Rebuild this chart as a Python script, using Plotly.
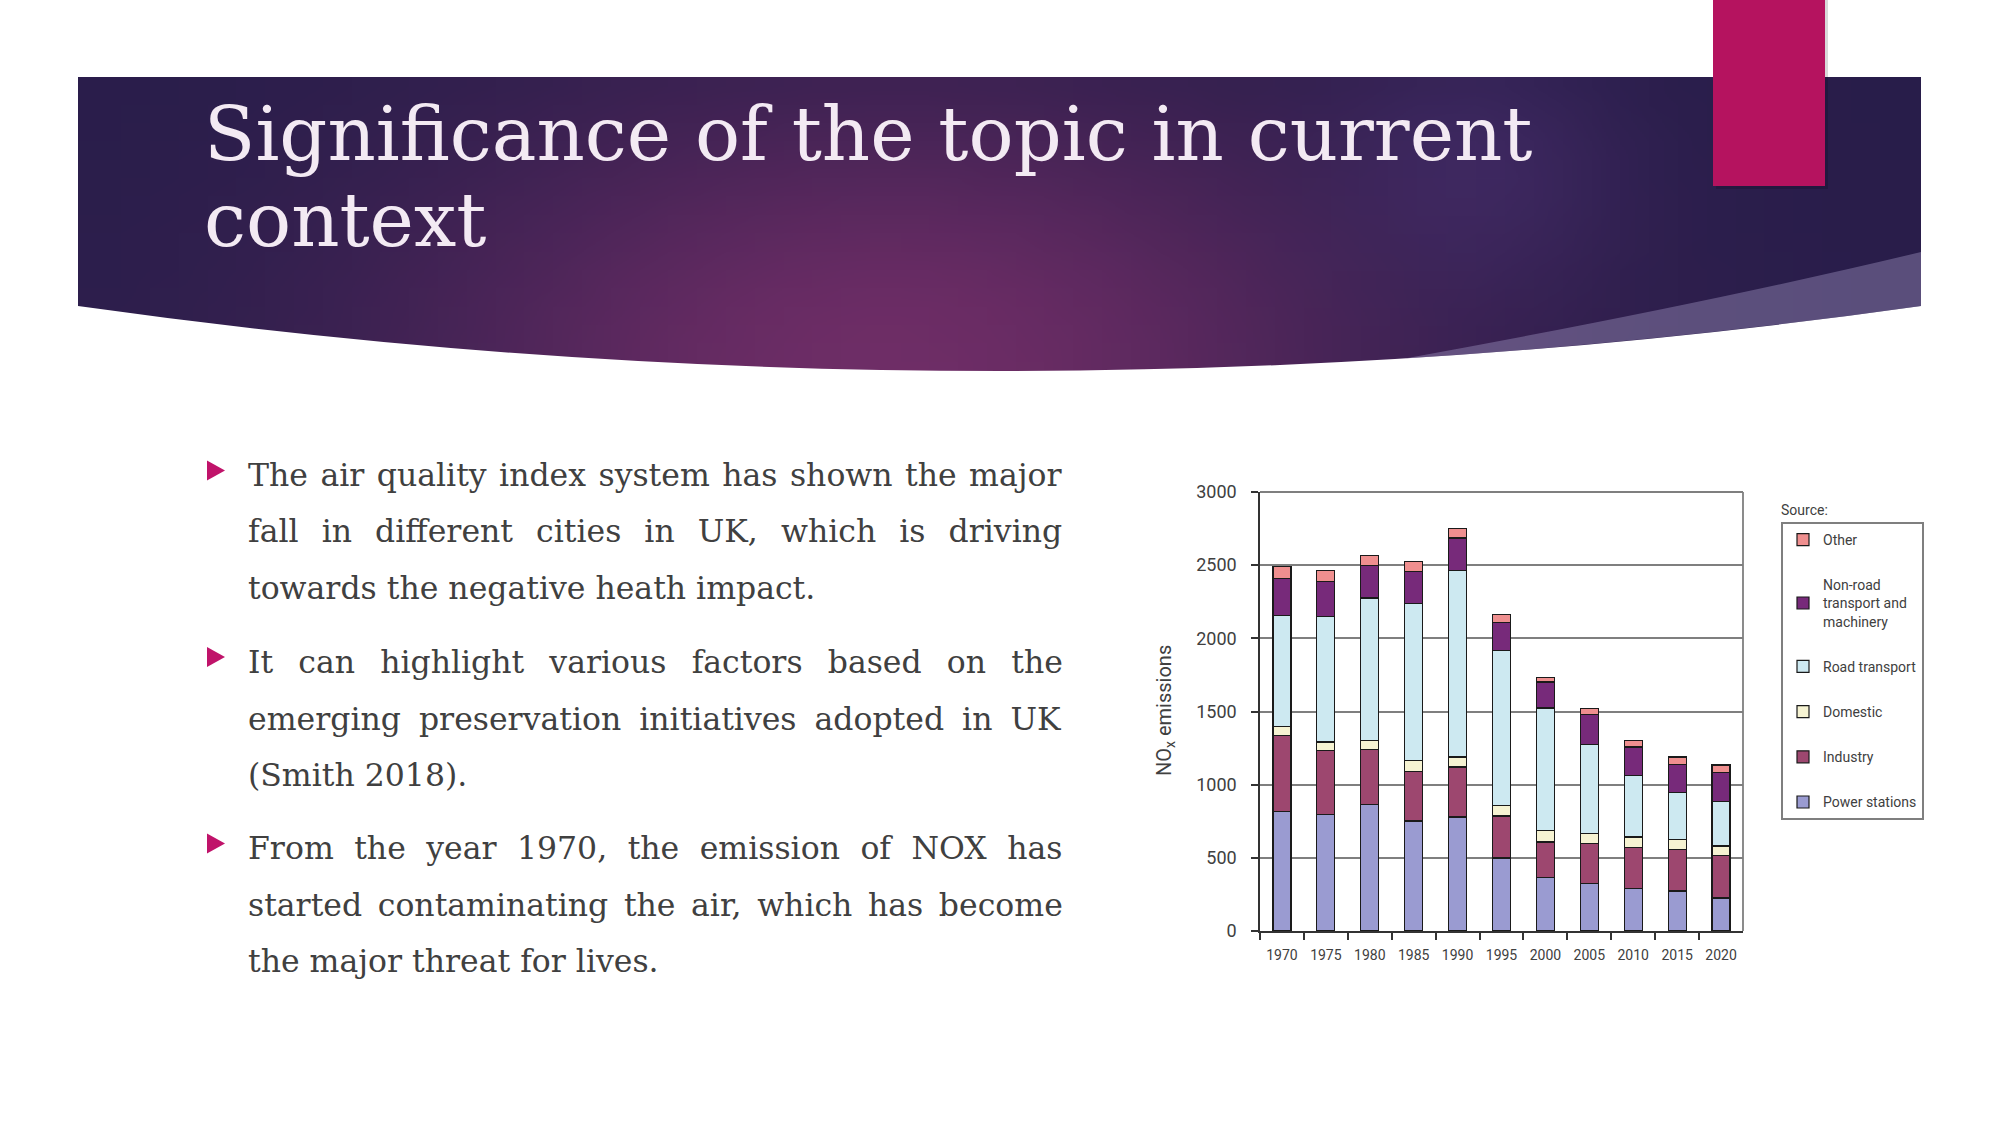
import base64, math, struct, zlib
import plotly.graph_objects as go

# ---------------- data ----------------
years = ['1970', '1975', '1980', '1985', '1990', '1995', '2000', '2005', '2010', '2015', '2020']
power_stations = [815, 795, 863, 752, 779, 499, 364, 323, 289, 273, 226]
industry = [520, 437, 376, 339, 342, 287, 244, 274, 281, 285, 291]
domestic = [65, 60, 64, 75, 68, 71, 80, 68, 72, 68, 64]
road_transport = [757, 858, 973, 1071, 1273, 1059, 836, 611, 420, 319, 305]
non_road = [250, 240, 223, 221, 224, 193, 178, 202, 195, 194, 196]
other = [84, 72, 68, 68, 64, 53, 32, 41, 46, 50, 52]

series_names = ['Power stations', 'Industry', 'Domestic', 'Road transport',
                'Non-road<br>transport and<br>machinery', 'Other']
series_values = [power_stations, industry, domestic, road_transport, non_road, other]
series_colors = ['#9a9bd1', '#9d476f', '#f6f3d2', '#cde9f1', '#772a7a', '#ef8f8f']

title_lines = ['Significance of the topic in current', 'context']
body_lines = [
    'The air quality index system has shown the major',
    'fall in different cities in UK, which is driving',
    'towards the negative heath impact.',
    'It can highlight various factors based on the',
    'emerging preservation initiatives adopted in UK',
    '(Smith 2018).',
    'From the year 1970, the emission of NOX has',
    'started contaminating the air, which has become',
    'the major threat for lives.',
]
word_spacing = [2.45, 13.05, 0, 15.15, 8.0, 0, 10.45, 5.6, 0]
body_baselines = [486, 542, 599, 672.5, 729.4, 786, 859, 916, 972]
bullet_centers = [470.5, 657, 843.5]

W, H = 2001, 1125
def PX(x):
    return x / W
def PY(y):
    return 1 - y / H

# ---------------- header gradient image ----------------
def make_png(w, h, pix):
    raw = b''.join(b'\x00' + bytes(row) for row in pix)
    def chunk(t, d):
        c = struct.pack('>I', len(d)) + t + d
        return c + struct.pack('>I', zlib.crc32(t + d) & 0xffffffff)
    return (b'\x89PNG\r\n\x1a\n' + chunk(b'IHDR', struct.pack('>IIBBBBB', w, h, 8, 2, 0, 0, 0))
            + chunk(b'IDAT', zlib.compress(raw)) + chunk(b'IEND', b''))

gw, gh = 64, 16
base = (40, 29, 74)
mag = (110, 45, 102)
blue = (70, 46, 108)
pix = []
for j in range(gh):
    v = j / (gh - 1)
    row = []
    for i in range(gw):
        u = i / (gw - 1)
        f = math.exp(-((u - 0.44) / 0.27) ** 2 - ((v - 1.0) / 0.95) ** 2)
        g = 0.6 * math.exp(-((u - 0.76) / 0.08) ** 2 - ((v - 0.3) / 0.45) ** 2)
        c = [base[k] * (1 - f) + mag[k] * f for k in range(3)]
        c = [c[k] * (1 - g) + blue[k] * g for k in range(3)]
        row += [int(round(x)) for x in c]
    pix.append(row)
img_src = 'data:image/png;base64,' + base64.b64encode(make_png(gw, gh, pix)).decode()

fig = go.Figure()

for rank, (name, vals, col) in enumerate(zip(series_names, series_values, series_colors)):
    fig.add_trace(go.Bar(
        x=years, y=vals, name=name, legendgroup=name, legendrank=10 - rank,
        marker=dict(color=col, line=dict(color='#1a1a1a', width=1.2)),
    ))

shapes = []
# mask under the curved header bottom
shapes.append(dict(type='path', xref='paper', yref='paper', layer='above',
    path=f'M {PX(74)} {PY(306)} L {PX(78)} {PY(306)} Q {PX(1000)} {PY(436)} {PX(1921)} {PY(306)} '
         f'L {PX(1926)} {PY(306)} L {PX(1926)} {PY(380)} L {PX(74)} {PY(380)} Z',
    fillcolor='white', line=dict(width=0)))
# lighter swoosh on right
shapes.append(dict(type='path', xref='paper', yref='paper', layer='above',
    path=f'M {PX(1405)} {PY(358.4)} Q {PX(1700)} {PY(305)} {PX(1921)} {PY(252)} '
         f'L {PX(1921)} {PY(306)} Q {PX(1663)} {PY(342.4)} {PX(1405)} {PY(358.4)} Z',
    fillcolor='rgba(150,140,185,0.45)', line=dict(width=0)))
# pink tab with shadow
shapes.append(dict(type='rect', xref='paper', yref='paper', layer='above',
    x0=PX(1716), x1=PX(1828), y0=PY(189), y1=PY(0),
    fillcolor='rgba(0,0,0,0.15)', line=dict(width=0)))
shapes.append(dict(type='rect', xref='paper', yref='paper', layer='above',
    x0=PX(1713), x1=PX(1825), y0=PY(186), y1=PY(0),
    fillcolor='#b5135f', line=dict(width=0)))
# bullets
for cy in bullet_centers:
    shapes.append(dict(type='path', xref='paper', yref='paper', layer='above',
        path=f'M {PX(207)} {PY(cy - 10)} L {PX(225)} {PY(cy)} L {PX(207)} {PY(cy + 10)} Z',
        fillcolor='#c0136a', line=dict(width=0)))
# chart right and top border
shapes.append(dict(type='line', xref='x domain', yref='y domain', x0=1, x1=1, y0=0, y1=1,
    line=dict(color='#7f7f7f', width=1.8)))
shapes.append(dict(type='line', xref='x domain', yref='y domain', x0=0, x1=1, y0=1, y1=1,
    line=dict(color='#7f7f7f', width=1.8)))

annotations = []
for txt, cy in zip(title_lines, [133.5, 220]):
    annotations.append(dict(text=txt, x=PX(202), y=PY(cy), xref='paper', yref='paper',
        xanchor='left', yanchor='middle', showarrow=False,
        font=dict(family='DejaVu Serif', size=75, color='#f3eaf3')))
for txt, ws, bl in zip(body_lines, word_spacing, body_baselines):
    t = f'<span style="word-spacing:{ws}px">{txt}</span>' if ws else txt
    annotations.append(dict(text=t, x=PX(246), y=PY(bl - 10.9), xref='paper', yref='paper',
        xanchor='left', yanchor='middle', showarrow=False,
        font=dict(family='DejaVu Serif', size=31.5, color='#404040')))
annotations.append(dict(text='NO<sub>x</sub> emissions', textangle=-90,
    x=PX(1165), y=PY(711), xref='paper', yref='paper', showarrow=False,
    xanchor='center', yanchor='middle',
    font=dict(family='Roboto', size=20, color='#404040')))
annotations.append(dict(text='Source:', x=PX(1779), y=PY(510), xref='paper', yref='paper',
    showarrow=False, xanchor='left', yanchor='middle',
    font=dict(family='Roboto', size=14, color='#404040')))

fig.update_layout(
    width=W, height=H, autosize=False,
    margin=dict(l=0, r=0, t=0, b=0, pad=0),
    paper_bgcolor='white', plot_bgcolor='white',
    barmode='stack', bargap=0.59,
    font=dict(family='Roboto', color='#404040'),
    xaxis=dict(domain=[PX(1260), PX(1743)], type='category', range=[-0.5, 10.5],
        showline=True, linecolor='#333333', linewidth=1.5, ticks='outside', tickson='boundaries',
        ticklen=7, tickcolor='#333333', tickwidth=1.5, showgrid=False, ticklabelstandoff=10,
        tickfont=dict(size=14, color='#404040'), fixedrange=True, automargin=False),
    yaxis=dict(domain=[PY(931), PY(492)], range=[0, 3000], dtick=500,
        showgrid=True, gridcolor='#7f7f7f', gridwidth=1.8, zeroline=False,
        showline=True, linecolor='#333333', linewidth=1.5, ticks='outside', ticklen=7,
        tickcolor='#333333', tickwidth=1.5, ticklabelstandoff=11,
        tickfont=dict(size=18, color='#404040'), fixedrange=True, automargin=False),
    showlegend=True,
    legend=dict(x=PX(1781), y=PY(522), xanchor='left', yanchor='top',
        traceorder='grouped', tracegroupgap=24,
        bordercolor='#7f7f7f', borderwidth=2, bgcolor='white',
        font=dict(family='Roboto', size=14, color='#404040'), itemwidth=30),
    images=[dict(source=img_src, xref='paper', yref='paper', x=PX(78), y=PY(77),
        sizex=PX(1921) - PX(78), sizey=PY(77) - PY(371), sizing='stretch',
        xanchor='left', yanchor='top', layer='below')],
    shapes=shapes,
    annotations=annotations,
)

fig.write_html('out.html',
               post_script="document.body.style.margin='0';document.body.style.overflow='hidden';")
